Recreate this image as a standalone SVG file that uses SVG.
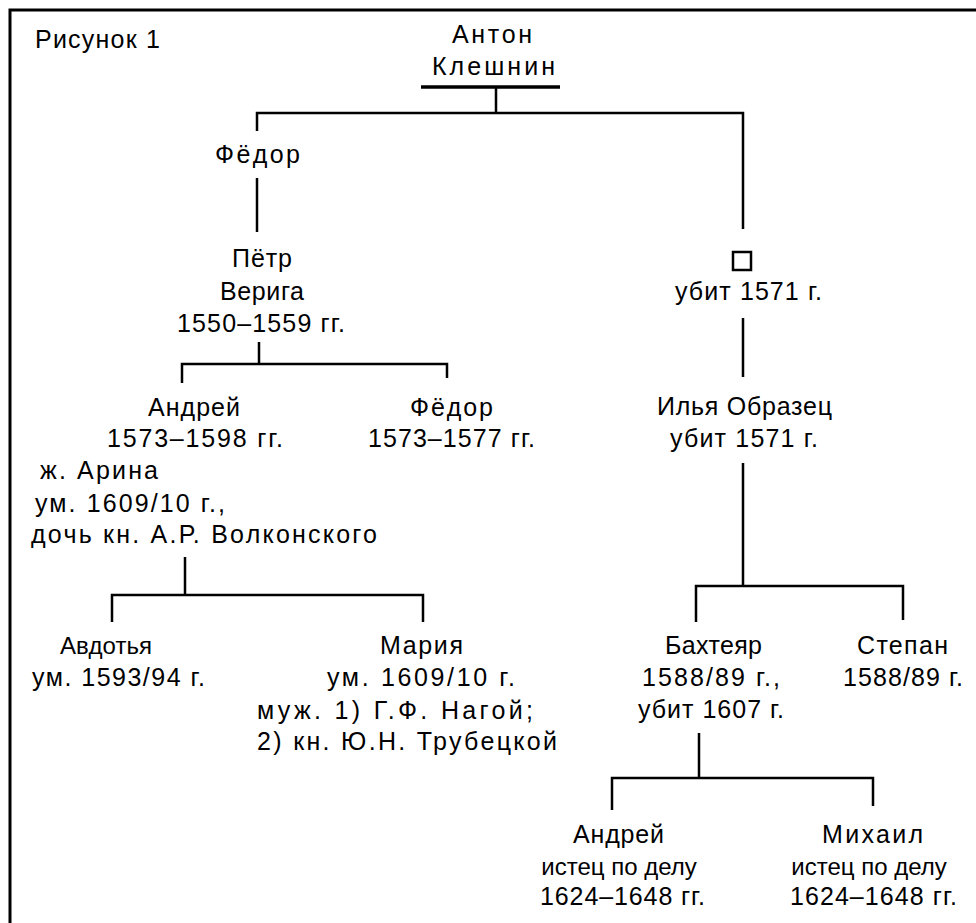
<svg xmlns="http://www.w3.org/2000/svg" width="976" height="923" viewBox="0 0 976 923">
<style>
text{font-family:"Liberation Sans",Arial,sans-serif;font-size:25px;fill:#000}
.m{text-anchor:middle;font-size:24px}
.ln{stroke:#000;stroke-width:2.5;fill:none}
</style>
<rect x="0" y="0" width="976" height="923" fill="#fff"/>
<rect x="10" y="10" width="1000" height="1000" fill="none" stroke="#000" stroke-width="3"/>
<text x="35" y="48" textLength="125">Рисунок 1</text>
<g id="connectors" class="ln">
<line x1="421" y1="87" x2="560" y2="87" stroke-width="3.5"/>
<path d="M496 87V113M257 131V113H743V229"/>
<path d="M257 178V232"/>
<path d="M259 342V364M182 383V364H447V378"/>
<path d="M743 318V377M743 463V586M696 622V586H903V620"/>
<path d="M185 557V595M112 622V595H423V622"/>
<path d="M699 733V778M612 810V778H873V806"/>
</g>
<g id="anton"><text x="452" y="43" textLength="80">Антон</text><text x="432" y="75" textLength="123">Клешнин</text></g>
<g id="fedor1"><text x="215" y="163" textLength="85">Фёдор</text></g>
<g id="petr"><text x="232" y="267" textLength="60">Пётр</text><text x="220" y="300" textLength="84">Верига</text><text x="177" y="332" textLength="168">1550–1559 гг.</text></g>
<g id="unknown"><rect x="733" y="252" width="18" height="18" fill="none" stroke="#000" stroke-width="2.5"/><text x="675" y="300" textLength="147">убит 1571 г.</text></g>
<g id="andrey1"><text x="148" y="416" textLength="92">Андрей</text><text x="107" y="447" textLength="176">1573–1598 гг.</text>
<text x="40" y="479" textLength="118">ж. Арина</text><text x="35" y="512" textLength="190">ум. 1609/10 г.,</text><text x="31" y="543" textLength="346">дочь кн. А.Р. Волконского</text></g>
<g id="fedor2"><text x="410" y="416" textLength="83">Фёдор</text><text x="368" y="447" textLength="167">1573–1577 гг.</text></g>
<g id="ilya"><text x="657" y="415" textLength="175">Илья Образец</text><text x="670" y="447" textLength="148">убит 1571 г.</text></g>
<g id="avdotya"><text class="m" x="106" y="654">Авдотья</text><text x="32" y="686" textLength="173">ум. 1593/94 г.</text></g>
<g id="mariya"><text x="380" y="654" textLength="83">Мария</text><text x="327" y="686" textLength="188">ум. 1609/10 г.</text><text x="257" y="719" textLength="276">муж. 1) Г.Ф. Нагой;</text><text x="257" y="750" textLength="300">2) кн. Ю.Н. Трубецкой</text></g>
<g id="bakhteyar"><text x="665" y="654" textLength="97">Бахтеяр</text><text x="642" y="686" textLength="138">1588/89 г.,</text><text x="638" y="718" textLength="146">убит 1607 г.</text></g>
<g id="stepan"><text x="857" y="654" textLength="91">Степан</text><text x="843" y="686" textLength="120">1588/89 г.</text></g>
<g id="andrey2"><text x="573" y="843" textLength="91">Андрей</text><text class="m" x="619" y="875">истец по делу</text><text x="540" y="905" textLength="165">1624–1648 гг.</text></g>
<g id="mikhail"><text x="822" y="843" textLength="101">Михаил</text><text class="m" x="869" y="875">истец по делу</text><text x="790" y="905" textLength="167">1624–1648 гг.</text></g>
</svg>
